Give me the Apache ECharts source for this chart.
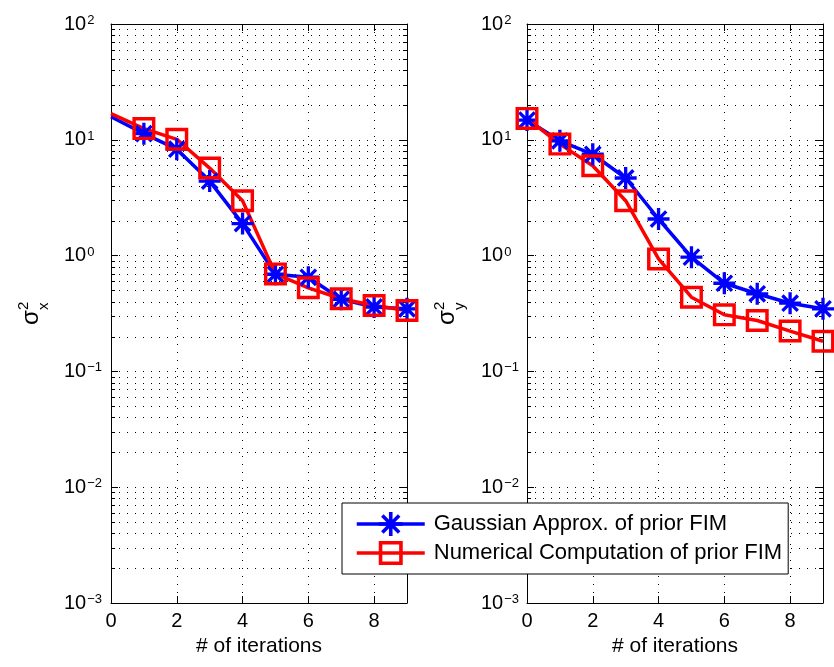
<!DOCTYPE html>
<html><head><meta charset="utf-8">
<script src="https://cdn.jsdelivr.net/npm/echarts@6/dist/echarts.min.js"></script>
<style>html,body{margin:0;padding:0;background:#fff}#c{width:834px;height:667px}</style>
</head><body><div id="c"></div>
<script>
// ---- data ----
const iterations = [0, 1, 2, 3, 4, 5, 6, 7, 8, 9];
const gaussX = [15.8, 11.3, 8.3, 4.4, 1.89, 0.69, 0.65, 0.42, 0.36, 0.347];
const numX   = [16.8, 12.5, 10.1, 5.7, 2.98, 0.695, 0.527, 0.424, 0.371, 0.336];
const gaussY = [14.8, 9.8, 7.5, 4.68, 2.07, 0.97, 0.577, 0.468, 0.388, 0.347];
const numY   = [15.3, 9.18, 5.97, 2.98, 0.936, 0.437, 0.308, 0.275, 0.223, 0.182];
const xTickValues = [0, 2, 4, 6, 8];
const yDecades = [0.001, 0.01, 0.1, 1, 10, 100];
const minorMultipliers = [2, 3, 4, 5, 6, 7, 8, 9];
const seriesNames = ['Gaussian Approx. of prior FIM', 'Numerical Computation of prior FIM'];
const xName = '# of iterations';

const FONT = '"Liberation Sans", Arial, Helvetica, sans-serif';
const DOT = [1, 7];
const minorVals = [];
yDecades.slice(0, -1).forEach(d => minorMultipliers.forEach(m => minorVals.push(m * d)));

const STAR = 'path://M8.5 0h3v20h-3z M0 8.5h20v3h-20z M1.94 4.06L4.06 1.94L18.06 15.94L15.94 18.06z M15.94 1.94L18.06 4.06L4.06 18.06L1.94 15.94z';
const SQUARE = 'path://M0 0H20V20H0Z M3 3V17H17V3Z';

function supFmt(v) {
  const e = Math.round(Math.log10(v));
  return '{b|10}{e|' + (e < 0 ? '\u2212' + (-e) : e) + '}';
}
const richLab = {
  b: {fontSize: 20, lineHeight: 20, fontFamily: FONT, color: '#000', verticalAlign: 'middle'},
  e: {fontSize: 13, lineHeight: 13, fontFamily: FONT, color: '#000', verticalAlign: 'top', padding: [0, 0, 21, 1]}
};

const grids = [
  {left: 111, right: 427, top: 24, bottom: 64},
  {left: 527, right: 11, top: 24, bottom: 64}
];

const xAxes = [], yAxes = [];
grids.forEach((g, gi) => {
  xAxes.push({
    type: 'value', gridIndex: gi, min: 0, max: 9, interval: 2, position: 'bottom',
    name: xName, nameLocation: 'middle', nameGap: 32,
    nameTextStyle: {fontSize: 21, color: '#000', fontFamily: FONT},
    axisLine: {show: true, onZero: false, lineStyle: {color: '#000', width: 1}},
    axisTick: {show: true, inside: true, length: 7, lineStyle: {color: '#000'}},
    axisLabel: {fontSize: 20, color: '#000', fontFamily: FONT, margin: 8,
      formatter: v => xTickValues.includes(v) ? String(v) : ''},
    splitLine: {show: true, lineStyle: {color: '#000', width: 1, type: DOT}}
  });
  xAxes.push({
    type: 'value', gridIndex: gi, min: 0, max: 9, interval: 2, position: 'top',
    axisLine: {show: true, onZero: false, lineStyle: {color: '#000', width: 1}},
    axisTick: {show: true, inside: true, length: 7, lineStyle: {color: '#000'}},
    axisLabel: {show: false}, splitLine: {show: false}
  });
  yAxes.push({
    type: 'log', logBase: 10, gridIndex: gi, min: 0.001, max: 100, position: 'left',
    axisLine: {show: true, onZero: false, lineStyle: {color: '#000', width: 1}},
    axisTick: {show: true, inside: true, length: 7, lineStyle: {color: '#000'}},
    axisLabel: {margin: gi === 0 ? 47 : 46, align: 'left', formatter: supFmt, rich: richLab},
    splitLine: {show: true, lineStyle: {color: '#000', width: 1, type: DOT}}
  });
  yAxes.push({
    type: 'log', logBase: 10, gridIndex: gi, min: 0.001, max: 100, position: 'right',
    axisLine: {show: true, onZero: false, lineStyle: {color: '#000', width: 1}},
    axisTick: {show: true, inside: true, length: 7, lineStyle: {color: '#000'}},
    axisLabel: {show: false}, splitLine: {show: false}
  });
});

function minorSeries(gi) {
  return {
    type: 'custom', xAxisIndex: gi * 2, yAxisIndex: gi * 2, silent: true, z: 1, clip: false,
    data: minorVals.map(v => [0, v]), encode: {x: 0, y: 1},
    renderItem: (params, api) => {
      const v = api.value(1);
      const p0 = api.coord([0, v]);
      const p1 = api.coord([9, v]);
      const y = Math.round(p0[1]) + 0.5;
      return {type: 'group', children: [
        {type: 'line', shape: {x1: p0[0], y1: y, x2: p1[0], y2: y}, style: {stroke: '#000', lineWidth: 1, lineDash: DOT}},
        {type: 'line', shape: {x1: p0[0], y1: y, x2: p0[0] + 4, y2: y}, style: {stroke: '#000', lineWidth: 1}},
        {type: 'line', shape: {x1: p1[0] - 4, y1: y, x2: p1[0], y2: y}, style: {stroke: '#000', lineWidth: 1}}
      ]};
    }
  };
}

function lineSeries(name, values, gi, color, symbol, size, hideFirst) {
  return {
    type: 'line', name: name, xAxisIndex: gi * 2, yAxisIndex: gi * 2, z: 3,
    symbol: symbol, symbolSize: size, showAllSymbol: true,
    itemStyle: {color: color},
    lineStyle: {color: color, width: 3.5},
    data: iterations.map((x, i) => (hideFirst && i === 0) ? {value: [x, values[i]], symbol: 'none'} : [x, values[i]])
  };
}

function sigmaLabel(x, sub) {
  return {
    type: 'group', x: x, y: 325, rotation: Math.PI / 2, silent: true,
    children: [
      {type: 'text', style: {text: '\u03c3', x: 0, y: 5, fontSize: 24, fontFamily: FONT, fill: '#000', verticalAlign: 'bottom'}},
      {type: 'text', style: {text: '2', x: 15, y: -7, fontSize: 15, fontFamily: FONT, fill: '#000', verticalAlign: 'bottom'}},
      {type: 'text', style: {text: sub, x: 15, y: 13, fontSize: 15, fontFamily: FONT, fill: '#000', verticalAlign: 'bottom'}}
    ]
  };
}

const chart = echarts.init(document.getElementById('c'), null, {renderer: 'canvas'});
chart.setOption({
  animation: false,
  backgroundColor: '#fff',
  grid: grids,
  xAxis: xAxes,
  yAxis: yAxes,
  legend: {
    left: 342, top: 503, orient: 'vertical',
    data: seriesNames,
    itemWidth: 68, itemHeight: 30, itemGap: 5,
    padding: [9, 6, 9, 13],
    borderColor: '#000', borderWidth: 1, backgroundColor: '#fff',
    lineStyle: {width: 3.5},
    textStyle: {fontSize: 22, color: '#000', fontFamily: FONT, padding: [0, 0, 0, 4]}
  },
  graphic: [sigmaLabel(38, 'x'), sigmaLabel(454, 'y')],
  series: [
    minorSeries(0), minorSeries(1),
    lineSeries(seriesNames[0], gaussX, 0, '#0000ff', STAR, 22, true),
    lineSeries(seriesNames[1], numX, 0, '#ff0000', SQUARE, 23, true),
    lineSeries(seriesNames[0], gaussY, 1, '#0000ff', STAR, 22, false),
    lineSeries(seriesNames[1], numY, 1, '#ff0000', SQUARE, 23, false)
  ]
});
</script>
</body></html>
